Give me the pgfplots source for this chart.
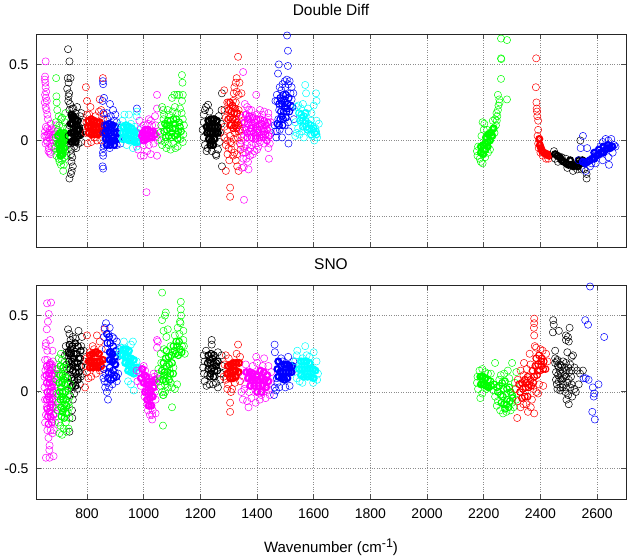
\documentclass[border=0pt]{standalone}
\usepackage{fontspec}
\setmainfont{Liberation Sans}
\usepackage{pgfplots}
\pgfplotsset{compat=1.18}
\definecolor{mg}{RGB}{255,0,255}
\definecolor{gr}{RGB}{0,255,0}
\definecolor{cy}{RGB}{0,255,255}
\definecolor{rd}{RGB}{255,0,0}
\definecolor{bl}{RGB}{0,0,255}
\definecolor{bk}{RGB}{0,0,0}
\newcommand\Ser[2]{\addplot[only marks,mark=o,mark size=3.6pt,color=#1,mark options={line width=.5pt}] coordinates {#2};}
\newcommand\Mid[2]{\addplot[only marks,mark=o,mark size=3.3pt,color=#1,mark options={line width=1.15pt}] coordinates {#2};}
\newcommand\Core[2]{\addplot[only marks,mark=o,mark size=2.9pt,color=#1,mark options={line width=2.2pt}] coordinates {#2};}
\pgfplotsset{panel/.style={
  scale only axis,width=590pt,height=213pt,xmin=620,xmax=2702,ymin=-0.7,ymax=0.7,
  clip=false,grid=major,
  major grid style={dotted,black!45,line width=.6pt},
  axis line style={black!85,line width=.8pt},
  major tick style={black!70,line width=1pt},major tick length=5pt,
  tick align=inside,
  xtick={800,1000,1200,1400,1600,1800,2000,2200,2400,2600},
  ytick={-0.5,0,0.5},yticklabels={-0.5,0,0.5},
  tick label style={font=\fontsize{14}{16}\selectfont},
  xticklabel style={yshift=-6pt},yticklabel style={xshift=-4pt},
  title style={font=\fontsize{15.5}{17}\selectfont,yshift=6pt},
  label style={font=\fontsize{15}{17}\selectfont},
}}
\begin{document}
\begin{tikzpicture}[x=1pt,y=1pt]
\path[use as bounding box] (0,0) rectangle (630,556);
\begin{axis}[panel,at={(36pt,309pt)},anchor=south west,title={Double Diff},title style={yshift=3pt},xticklabels={}]
\Ser{mg}{(654,.52)(652,.42)(651,.40)(653,.38)(654,.35)(656,.32)(652,.30)(655,.28)(658,.26)(651,.25)(654,.22)(657,.20)(660,.17)(662,.14)(672,.11)(655,.09)(660,.08)(668,.07)(652,.06)(664,.05)(672,.05)(680,.06)(656,.03)(666,.02)(678,.03)(684,.02)(660,-.01)(670,-.02)(680,.00)(665,-.05)(675,-.04)(668,-.08)(672,-.09)(662,.04)(690,.04)(658,.0)(650,.03)(654,-.02)(686,-.03)(692,.1)(664,-.07)(676,.08)}
\Ser{gr}{(691,.41)(692,.29)(693,.25)(695,.2)(700,.16)(708,.14)(716,-.2)(700,-.12)(705,-.1)(712,-.13)(720,-.11)(690,.02)(695,-.02)(698,.07)(702,.1)(714,.09)(722,.12)(730,.08)(735,.02)(728,-.06)(718,-.06)(688,-.05)(695,-.07)(708,-.16)(724,.18)(692,-.1)(690,.12)(703,-.14)(718,-.16)(712,.15)(728,-.1)}
\Core{gr}{(698,.03)(705,.05)(712,.04)(720,.05)(700,-.02)(708,-.01)(716,-.01)(724,.0)(703,-.06)(711,-.06)(719,-.05)(707,-.1)(714,-.09)(722,.03)}
\Ser{bk}{(733,.6)(738,.52)(732,.41)(742,.41)(735,.38)(730,.34)(737,.31)(735,.29)(734,.26)(740,.24)(748,.21)(765,.22)(775,.16)(782,.12)(790,.08)(780,-.01)(755,-.04)(745,-.06)(744,-.09)(748,-.11)(745,-.14)(750,-.17)(746,-.2)(743,-.22)(738,-.25)(760,.18)(738,.1)(735,.03)(772,.09)(770,-.02)(738,.2)(742,-.02)(752,.21)(780,.18)(762,-.05)}
\Core{bk}{(745,.17)(752,.16)(760,.14)(768,.13)(742,.11)(750,.11)(758,.09)(766,.07)(744,.05)(752,.05)(760,.04)(769,.03)(745,-.01)(752,.0)(760,-.01)(748,.15)(764,.1)(774,.07)(778,.04)}
\Ser{rd}{(796,.35)(856,.41)(800,.26)(812,.22)(845,.27)(850,.2)(860,.17)(800,.17)(798,.12)(795,.05)(802,-.02)(815,-.01)(835,.0)(850,.0)(862,.06)(856,.14)(808,.17)(830,.16)(842,.19)(825,.02)}
\Core{rd}{(805,.13)(815,.14)(825,.13)(835,.12)(845,.12)(803,.09)(813,.09)(823,.08)(833,.08)(843,.08)(853,.09)(806,.05)(816,.04)(826,.04)(836,.04)(846,.05)(856,.06)}
\Ser{bl}{(856,.39)(857,.37)(860,.28)(855,.26)(881,.24)(892,.2)(900,.17)(870,.18)(872,.14)(858,.05)(860,-.03)(856,-.08)(857,-.1)(855,-.17)(857,-.185)(976,.21)(905,.12)(912,.02)(918,-.02)(880,-.05)(862,.1)(858,.18)(884,.16)(895,.13)(858,-.05)(905,-.03)}
\Core{bl}{(868,.1)(878,.11)(890,.1)(900,.09)(864,.05)(874,.06)(884,.05)(896,.05)(906,.05)(866,.01)(876,.01)(886,.0)(898,.0)(908,.01)(870,-.03)(882,-.03)(896,-.03)}
\Ser{cy}{(932,.17)(948,.17)(976,.19)(975,.16)(925,.13)(920,.1)(955,.11)(968,.09)(985,.07)(940,-.03)(962,-.05)(975,-.04)(988,.0)}
\Core{cy}{(928,.09)(938,.1)(948,.09)(958,.08)(968,.06)(978,.05)(926,.05)(936,.05)(946,.04)(956,.04)(966,.03)(976,.02)(938,.01)(948,.0)(958,-.0)(968,-.01)(978,-.01)(925,.01)}
\Ser{mg}{(1010,-.34)(1047,.3)(1047,.21)(1040,.16)(1025,.13)(1018,.14)(1000,-.1)(990,-.1)(1025,-.09)(1047,-.1)(1000,.1)(985,.13)(1045,.03)(1052,.06)(1012,-.07)(980,-.06)(1035,-.02)(1030,.1)(1042,.1)(1015,.11)(1000,-.03)(990,.08)(1018,-.03)(1050,.0)}
\Core{mg}{(997,.05)(1005,.07)(1015,.07)(1023,.06)(1033,.06)(994,.03)(1003,.02)(1012,.03)(1021,.02)(1030,.02)(1040,.04)(1000,.0)(1010,.01)}
\Ser{gr}{(1135,.43)(1137,.38)(1108,.3)(1100,.28)(1118,.3)(1125,.3)(1138,.3)(1135,.26)(1065,.22)(1068,.2)(1072,.17)(1062,.1)(1058,.05)(1065,-.03)(1080,-.05)(1138,-.01)(1120,-.04)(1095,-.06)(1138,.14)(1142,.1)(1085,.2)(1110,.22)(1128,.21)(1062,.0)(1090,.17)(1102,.19)(1118,.18)(1134,.18)(1070,.14)(1140,.04)(1075,-.01)(1105,-.02)(1130,.01)(1088,-.03)(1112,-.05)}
\Mid{gr}{(1075,.11)(1085,.13)(1095,.13)(1105,.14)(1115,.14)(1125,.12)(1072,.06)(1082,.07)(1092,.08)(1102,.08)(1112,.08)(1122,.06)(1132,.06)(1078,.02)(1088,.03)(1098,.02)(1110,.03)(1120,.01)(1090,.1)(1110,.11)(1100,.05)(1118,.04)(1082,.1)(1128,.09)}
\Ser{bk}{(1227,.235)(1220,.22)(1216,.2)(1276,.31)(1275,.2)(1265,.16)(1212,.12)(1208,.07)(1212,.02)(1216,-.03)(1222,-.07)(1255,-.09)(1256,-.1)(1276,-.17)(1262,-.06)(1270,.05)(1273,.11)(1232,.19)(1212,.17)(1226,-.05)(1240,-.07)(1268,-.01)}
\Core{bk}{(1228,.13)(1238,.14)(1248,.14)(1258,.13)(1222,.09)(1232,.09)(1242,.09)(1252,.09)(1262,.09)(1224,.05)(1234,.05)(1244,.05)(1254,.05)(1262,.05)(1230,.01)(1240,.0)(1250,.01)(1235,-.03)(1245,-.03)}
\Ser{rd}{(1333,.55)(1328,.41)(1325,.38)(1320,.35)(1284,.33)(1345,.31)(1335,.3)(1290,-.2)(1305,-.31)(1305,-.37)(1335,-.2)(1330,-.17)(1302,-.13)(1285,.02)(1290,-.03)(1300,-.05)(1310,-.02)(1320,-.08)(1330,-.09)(1340,-.02)(1345,.03)(1295,.07)(1345,.12)(1290,.15)}
\Ser{rd}{(1295,.25)(1300,.25)(1315,.26)(1325,.25)(1335,.2)(1300,.2)(1315,.21)(1328,.17)(1340,.17)(1310,-.06)(1325,-.13)(1318,.01)(1332,.02)(1295,.0)(1305,.03)(1285,.09)(1328,.32)(1318,.31)(1338,.38)(1342,-.06)(1315,-.1)(1296,-.09)(1340,.07)(1285,.2)(1306,-.01)(1322,.05)(1335,.06)}
\Mid{rd}{(1305,.25)(1313,.23)(1300,.2)(1310,.19)(1320,.18)(1330,.12)(1305,.15)(1315,.14)(1325,.14)(1335,.1)(1310,.1)(1322,.1)(1316,.08)(1298,.14)(1305,.1)(1328,.08)(1322,.21)(1330,.18)}
\Ser{mg}{(1351,.45)(1397,.3)(1354,-.39)(1442,-.12)(1370,-.19)(1347,-.18)(1353,-.175)(1357,.24)(1365,.22)(1380,.2)(1410,.2)(1425,.19)(1440,.18)(1345,.15)(1448,.12)(1450,.05)(1445,-.02)(1440,-.05)(1400,-.06)(1390,-.07)(1375,-.1)(1362,-.12)(1350,-.08)(1343,-.03)(1380,-.03)(1365,-.03)(1410,-.01)(1425,-.02)(1352,-.12)(1370,-.07)(1348,.07)(1400,.17)(1385,.16)(1355,-.05)(1395,-.02)(1385,-.09)(1368,-.14)(1358,-.08)(1405,-.04)(1345,.0)(1375,-.05)(1352,.02)(1440,.15)(1418,.17)(1372,.2)}
\Mid{mg}{(1360,.17)(1372,.16)(1385,.15)(1398,.14)(1412,.14)(1425,.13)(1438,.12)(1356,.12)(1368,.11)(1382,.1)(1395,.09)(1408,.09)(1422,.08)(1436,.07)(1360,.07)(1375,.06)(1388,.05)(1402,.05)(1416,.04)(1430,.04)(1442,.03)(1365,.02)(1380,.02)(1395,.01)(1410,.02)(1435,.0)(1368,.14)(1392,.12)(1416,.11)(1432,.1)(1378,.08)(1402,.07)(1426,.06)(1365,.05)(1395,.03)(1422,.02)}
\Ser{bl}{(1506,.69)(1509,.59)(1477,.5)(1474,.44)(1509,.49)(1510,.37)(1505,.4)(1515,.39)(1522,.35)(1528,.31)(1498,.39)(1490,.37)(1480,.35)(1470,.3)(1465,.26)(1478,.2)(1512,.06)(1511,-.02)(1488,.02)(1470,.06)(1468,.02)(1462,.1)(1525,.22)(1530,.14)(1510,.12)(1518,.31)(1500,.35)(1486,.33)(1472,.26)(1522,.27)(1475,.14)(1498,.1)(1465,.06)(1480,.07)}
\Mid{bl}{(1482,.28)(1492,.3)(1502,.3)(1512,.28)(1478,.24)(1488,.24)(1498,.25)(1508,.24)(1518,.23)(1484,.19)(1494,.19)(1504,.19)(1514,.19)(1482,.14)(1492,.14)(1502,.15)(1478,.1)(1490,.1)(1472,.11)(1525,.22)(1496,.27)(1506,.21)(1488,.16)(1500,.22)(1486,.26)}
\Ser{cy}{(1570,.365)(1573,.31)(1608,.31)(1610,.26)(1540,.22)(1546,.23)(1555,.21)(1600,.23)(1562,.24)(1580,.21)(1610,.13)(1618,.11)(1535,.12)(1540,.05)(1535,.03)(1550,.04)(1558,.06)(1565,.02)(1602,.0)(1612,.02)(1595,.03)(1575,.18)(1590,.13)(1545,.08)(1592,.18)(1606,.08)}
\Mid{cy}{(1548,.18)(1556,.17)(1565,.16)(1552,.13)(1562,.13)(1572,.13)(1582,.11)(1562,.09)(1574,.09)(1584,.08)(1594,.07)(1602,.05)(1610,.04)(1590,.04)(1558,.15)(1568,.11)(1578,.07)(1590,.1)(1600,.08)(1608,.06)(1570,.18)}
\Ser{gr}{(2261,.67)(2282,.66)(2261,.54)(2262,.535)(2261,.405)(2250,.3)(2282,.27)(2255,.27)(2256,.25)(2252,.23)(2245,.18)(2248,.16)(2240,.14)(2243,.1)(2232,.13)(2202,.11)(2196,.12)(2212,.07)(2230,.07)(2238,.05)(2176,-.07)(2178,-.1)(2186,-.12)(2190,-.14)(2196,-.15)(2205,-.11)(2215,-.08)(2222,-.06)(2180,-.04)(2192,.03)(2200,.07)(2250,.2)(2246,.13)}
\Core{gr}{(2190,-.04)(2198,-.03)(2206,-.02)(2214,-.01)(2222,.0)(2230,.03)(2190,-.08)(2198,-.09)(2206,-.06)(2214,-.04)(2208,.02)(2216,.04)(2224,.05)(2235,.08)}
\Ser{rd}{(2385,.54)(2384,.35)(2386,.25)(2387,.21)(2388,.19)(2389,.16)(2392,.13)(2392,.07)(2390,.03)(2392,-.02)(2394,-.05)(2400,-.08)(2408,-.1)(2420,-.12)(2428,-.12)}
\Core{rd}{(2396,.01)(2398,-.03)(2402,-.05)(2406,-.07)(2412,-.08)(2418,-.09)(2424,-.09)(2430,-.1)}
\Ser{bk}{(2541,.0)(2563,-.22)(2563,-.25)(2448,-.07)(2452,-.12)(2462,-.14)(2475,-.11)(2490,-.12)(2495,-.18)(2515,-.2)(2530,-.19)(2545,-.19)(2555,-.19)}
\Core{bk}{(2452,-.09)(2460,-.1)(2468,-.11)(2475,-.13)(2483,-.14)(2491,-.15)(2499,-.16)(2508,-.16)(2516,-.17)(2524,-.16)(2532,-.17)(2540,-.15)(2548,-.13)(2556,-.14)(2505,-.13)(2535,-.13)}
\Ser{bl}{(2550,.03)(2542,-.05)(2565,-.05)(2535,-.13)(2560,-.2)(2642,-.16)(2612,-.04)(2620,-.01)(2630,.01)(2640,.0)(2650,.01)(2660,-.03)(2665,-.04)(2600,-.08)(2580,-.15)(2575,-.17)(2595,-.15)(2620,-.13)(2640,-.11)(2655,-.08)}
\Core{bl}{(2550,-.14)(2558,-.15)(2566,-.14)(2574,-.13)(2582,-.12)(2590,-.12)(2598,-.1)(2606,-.09)(2614,-.08)(2622,-.08)(2630,-.06)(2638,-.05)(2646,-.05)(2654,-.04)(2590,-.08)(2606,-.06)(2622,-.04)(2638,-.03)}
\end{axis}
\begin{axis}[panel,at={(36pt,57pt)},anchor=south west,height=214pt,title={SNO},
  xticklabels={800,1000,1200,1400,1600,1800,2000,2200,2400,2600},
  xlabel={Wavenumber (cm\raisebox{5pt}{\fontsize{12.5}{13}\selectfont -1})},xlabel style={yshift=-14pt}]
\Ser{bk}{(733,.41)(738,.38)(770,.4)(725,.3)(722,.24)(728,.18)(730,.1)(732,.05)(740,-.02)(747,-.12)(748,-.17)(738,-.26)(780,.3)(790,.2)(785,.12)(775,.05)(765,.02)(755,-.01)(750,.36)(760,.35)(742,.34)(735,.22)(782,.36)(788,.27)(730,.15)(778,.1)(745,.03)(768,.1)(750,-.05)(728,.26)}
\Mid{bk}{(738,.31)(748,.3)(758,.32)(768,.3)(778,.27)(734,.26)(744,.25)(754,.25)(764,.25)(776,.22)(736,.2)(746,.2)(756,.19)(766,.19)(780,.17)(740,.15)(750,.14)(760,.13)(772,.13)(745,.09)(755,.08)(768,.08)(748,.04)(760,.04)(742,.28)(752,.22)(770,.22)(750,.17)(765,.16)(738,.25)}
\Ser{mg}{(659,.58)(673,.585)(665,.51)(662,.46)(658,.41)(670,.34)(655,.32)(654,.30)(660,.27)(678,.27)(665,.04)(652,.21)(680,.2)(690,.15)(650,.1)(694,.05)(695,-.03)(652,-.05)(690,-.1)(655,-.15)(688,-.2)(660,-.25)(678,-.27)(668,-.35)(667,-.38)(655,-.43)(682,-.42)(668,-.43)(672,-.25)(662,.15)(675,.18)(658,-.1)(684,-.05)(685,.1)(670,.19)(660,.21)(650,.03)(688,-.14)(652,-.2)(692,-.06)(664,-.3)(683,-.25)(653,.14)(688,.0)(672,.08)(664,-.13)(676,-.18)}
\Mid{mg}{(658,.17)(668,.18)(678,.16)(656,.11)(666,.12)(676,.11)(686,.12)(658,.06)(668,.06)(678,.05)(660,.0)(670,.0)(680,.0)(658,-.05)(668,-.05)(678,-.05)(660,-.11)(670,-.1)(680,-.1)(662,-.16)(672,-.16)(682,-.15)(664,-.21)(676,-.2)(664,.09)(674,.03)(664,-.03)(674,-.08)(668,-.13)(670,.14)(682,.07)}
\Ser{gr}{(708,.25)(700,.22)(720,.19)(726,.16)(695,.15)(692,.08)(742,.05)(740,-.03)(738,-.1)(695,-.01)(738,-.17)(735,-.24)(728,-.26)(712,-.28)(703,-.27)(700,-.2)(725,-.2)(696,-.12)(732,-.13)(698,-.07)(706,-.22)(718,-.24)(730,.09)(735,-.07)(700,.12)(712,.21)}
\Mid{gr}{(706,.17)(716,.16)(704,.11)(714,.11)(724,.1)(702,.06)(712,.06)(722,.05)(704,.0)(714,.0)(724,.0)(732,.02)(706,-.05)(716,-.05)(726,-.05)(708,-.1)(718,-.11)(728,-.09)(710,-.16)(720,-.17)(708,.03)(718,.08)(712,-.03)(722,-.08)(714,-.13)(726,-.14)}
\Ser{rd}{(793,.03)(800,.37)(835,.37)(862,.41)(845,.33)(820,.3)(810,.26)(852,.28)(798,.22)(800,.13)(805,.09)(815,.1)(832,.12)(845,.14)(858,.15)(825,.28)(795,.17)}
\Core{rd}{(810,.24)(820,.25)(832,.26)(842,.25)(806,.2)(816,.2)(826,.2)(836,.2)(846,.2)(856,.21)(810,.16)(820,.16)(830,.17)(840,.16)(850,.17)}
\Ser{bl}{(867,.45)(862,.42)(874,-.05)(870,-.0)(864,.03)(858,.09)(865,.12)(878,.03)(860,.15)(905,.33)(915,.28)(898,.13)(910,.12)(885,.08)(875,.38)(890,.36)(860,.36)(880,.42)(895,.35)(908,.23)(866,.28)(872,.06)(862,.07)(890,.05)(905,.07)}
\Mid{bl}{(870,.38)(878,.36)(872,.32)(882,.32)(892,.3)(902,.27)(876,.13)(886,.12)(896,.11)(904,.1)(874,.09)(884,.08)(894,.09)(880,.16)(892,.14)}
\Core{bl}{(880,.26)(890,.25)(900,.23)(880,.21)(890,.2)(900,.18)}
\Ser{cy}{(930,.33)(962,.33)(955,.31)(920,.29)(918,.24)(915,.26)(975,.2)(980,.16)(945,.07)(955,.05)(965,.01)(975,.13)}
\Core{cy}{(928,.28)(938,.28)(948,.27)(925,.24)(935,.23)(945,.23)(955,.22)(965,.21)(935,.19)(945,.18)(955,.17)(965,.16)(975,.16)(945,.14)(955,.13)(965,.12)}
\Ser{mg}{(1047,.34)(1047,.29)(1050,.33)(1030,-.18)(1042,-.14)(1032,-.12)(1015,-.12)(1020,-.05)(1005,.14)(985,.13)(978,.07)(975,.14)(1050,.12)(1045,.06)(1040,.0)(1035,.12)(1048,.09)(1013,-.08)(1003,-.03)(1030,-.15)(1022,-.15)(1042,-.05)(1038,.1)(990,.04)(1000,.17)}
\Core{mg}{(995,.15)(1002,.11)(1010,.1)(990,.09)(1000,.06)(1010,.05)(1020,.05)(1030,.07)(1040,.08)(1005,.0)(1015,.0)(1025,.01)(1035,.03)(1012,-.05)(1022,-.04)(1032,-.03)(1018,-.09)(1027,-.09)}
\Ser{gr}{(1065,.65)(1131,.59)(1131,.54)(1132,.5)(1128,.46)(1078,.52)(1075,.5)(1065,.47)(1140,.4)(1120,.42)(1072,.28)(1060,.25)(1052,.15)(1058,.1)(1065,.0)(1068,-.02)(1068,-.22)(1100,-.1)(1070,-.02)(1084,.03)(1110,.02)(1118,.05)(1125,.26)(1145,.25)(1135,.3)(1085,.41)(1105,.16)(1095,.06)(1075,.05)(1140,.34)(1130,.45)(1095,.3)(1070,.4)(1080,.36)(1110,.37)(1126,.38)(1142,.3)(1062,.19)(1055,.07)(1090,.15)(1085,.1)(1100,.03)(1075,-.0)(1060,.04)}
\Mid{gr}{(1078,.22)(1088,.23)(1098,.24)(1108,.27)(1118,.3)(1128,.28)(1070,.19)(1080,.17)(1090,.18)(1100,.19)(1112,.25)(1122,.24)(1064,.14)(1074,.13)(1084,.13)(1094,.12)(1104,.12)(1068,.08)(1078,.07)(1090,.08)(1115,.33)(1125,.33)(1105,.3)(1134,.26)(1080,.27)(1072,.11)}
\Ser{bk}{(1240,.34)(1240,.31)(1212,.24)(1215,.2)(1210,.16)(1213,.12)(1215,.07)(1222,.04)(1245,.05)(1262,.03)(1270,.08)(1278,.17)(1275,.24)(1262,.26)(1225,.11)(1250,.1)(1220,.27)(1232,.05)(1272,.12)(1255,.06)}
\Mid{bk}{(1228,.24)(1238,.25)(1248,.24)(1226,.19)(1236,.19)(1246,.19)(1256,.19)(1262,.2)(1228,.15)(1238,.15)(1250,.14)(1260,.14)(1234,.1)(1246,.1)(1242,.22)(1232,.21)(1244,.16)(1255,.17)(1236,.12)}
\Ser{rd}{(1333,.31)(1305,-.07)(1305,-.13)(1295,.02)(1290,.24)(1300,.22)(1328,.25)(1340,.23)(1285,.18)(1282,.1)(1298,.05)(1312,.02)(1322,.06)(1340,.07)(1308,.0)(1290,.08)}
\Core{rd}{(1297,.17)(1307,.18)(1317,.19)(1327,.19)(1337,.19)(1295,.12)(1305,.13)(1315,.14)(1325,.14)(1335,.13)(1305,.09)(1315,.09)(1325,.1)}
\Ser{mg}{(1397,.23)(1425,.22)(1360,.18)(1370,-.1)(1350,-.05)(1395,-.07)(1430,-.04)(1365,-.06)(1380,-.04)(1440,.01)(1448,.06)(1450,.13)(1352,.1)(1345,.0)(1415,-.02)(1400,.19)(1420,.17)(1385,.17)(1410,-.05)(1355,.02)(1440,.17)(1372,.0)(1358,.05)(1445,-.02)}
\Core{mg}{(1362,.13)(1374,.13)(1386,.12)(1398,.11)(1412,.14)(1424,.13)(1436,.11)(1368,.09)(1380,.08)(1392,.08)(1404,.08)(1416,.09)(1428,.08)(1440,.07)(1376,.04)(1390,.04)(1404,.04)(1418,.04)(1432,.03)(1400,.0)(1416,.0)}
\Ser{bl}{(1462,.31)(1463,.26)(1490,.2)(1463,.03)(1460,-.02)(1467,.01)(1478,.03)(1500,.03)(1515,.04)(1528,.2)(1470,.09)(1510,.23)(1485,.22)(1472,.06)}
\Core{bl}{(1475,.2)(1485,.17)(1495,.18)(1505,.18)(1515,.17)(1525,.17)(1472,.15)(1482,.13)(1492,.13)(1502,.13)(1512,.13)(1522,.13)(1475,.1)(1487,.09)(1497,.08)(1507,.09)}
\Ser{cy}{(1570,.3)(1542,.27)(1600,.26)(1540,.24)(1535,.2)(1610,.2)(1615,.12)(1612,.08)(1540,.09)(1550,.07)(1560,.06)(1598,.06)(1575,.24)(1585,.23)(1560,.22)}
\Core{cy}{(1555,.2)(1565,.2)(1575,.2)(1585,.19)(1548,.15)(1558,.15)(1568,.15)(1578,.15)(1588,.15)(1598,.15)(1606,.14)(1555,.11)(1565,.1)(1578,.1)(1590,.1)(1600,.09)}
\Ser{gr}{(2240,.19)(2300,.19)(2185,.14)(2178,.1)(2176,.06)(2195,.15)(2180,.02)(2195,-.01)(2210,.02)(2188,-.04)(2285,.14)(2260,.11)(2272,.12)(2240,-.03)(2250,-.06)(2246,-.09)(2258,-.12)(2268,-.14)(2280,-.13)(2295,-.12)(2305,-.1)(2315,.13)(2315,-.05)(2290,.09)(2255,.08)(2225,.12)(2215,.12)(2235,.01)(2205,.13)(2310,.06)(2300,-.07)}
\Core{gr}{(2188,.1)(2197,.1)(2206,.09)(2190,.05)(2199,.05)(2208,.04)(2217,.03)}
\Mid{gr}{(2215,.08)(2224,.07)(2226,.04)(2236,.05)(2246,.03)(2255,.04)(2265,.06)(2275,.07)(2250,.0)(2260,-.02)(2270,.02)(2282,.02)(2290,.03)(2262,-.07)(2272,-.08)(2282,-.05)(2292,-.06)(2302,-.04)(2275,-.11)(2288,-.1)(2300,-.02)(2268,-.03)(2280,-.08)(2295,-.0)}
\Ser{rd}{(2378,.48)(2378,.45)(2377,.42)(2378,.37)(2318,-.17)(2378,-.14)(2356,-.13)(2366,-.1)(2410,.04)(2385,.0)(2392,-.01)(2330,.14)(2342,.19)(2320,.08)(2312,.02)(2340,-.08)(2380,.3)(2385,.29)(2362,.25)(2408,.27)(2420,.25)(2425,.2)(2320,-.06)(2370,-.05)(2350,-.08)(2330,-.1)(2395,.05)(2375,.02)(2400,.28)(2365,.18)(2352,.15)(2340,.11)}
\Mid{rd}{(2325,.05)(2335,.06)(2345,.08)(2355,.1)(2365,.08)(2328,.0)(2338,.02)(2348,.03)(2358,.03)(2368,.04)(2335,-.04)(2345,-.03)(2355,-.03)(2372,.14)(2382,.17)(2392,.18)(2402,.2)(2412,.2)(2378,.1)(2388,.11)(2398,.14)(2410,.15)(2418,.15)(2385,.22)(2395,.24)(2405,.22)(2350,.06)(2360,.05)(2375,.06)(2390,.14)(2404,.17)}
\Ser{bk}{(2445,.47)(2447,.44)(2444,.39)(2465,.4)(2503,.42)(2490,.34)(2500,.33)(2495,.26)(2515,.24)(2510,.23)(2452,.27)(2460,.21)(2470,.18)(2480,.2)(2490,.19)(2505,.18)(2520,.16)(2530,.14)(2540,.12)(2550,.14)(2455,.13)(2475,.08)(2490,.1)(2455,.08)(2470,.03)(2480,.05)(2460,.02)(2490,.03)(2510,.05)(2520,.02)(2498,-.02)(2492,-.05)(2500,-.08)(2512,-.03)(2535,.05)(2525,-.0)}
\Ser{bk}{(2458,.2)(2465,.16)(2475,.17)(2485,.16)(2498,.16)(2510,.14)(2462,.11)(2472,.12)(2485,.11)(2465,.07)(2478,.03)(2488,.0)(2470,.01)(2500,.08)(2508,.1)(2452,.19)(2468,.14)(2480,.14)(2492,.14)(2502,.13)(2470,.09)(2458,.05)(2462,.17)(2495,.06)(2505,.03)(2480,.09)(2452,.22)(2490,.37)(2497,.36)}
\Ser{bl}{(2575,.69)(2558,.47)(2568,.44)(2625,.36)(2552,.09)(2560,.09)(2570,.08)(2605,.05)(2585,.03)(2590,-.01)(2588,-.03)(2583,-.13)(2592,-.18)}
\end{axis}
\end{tikzpicture}
\end{document}
